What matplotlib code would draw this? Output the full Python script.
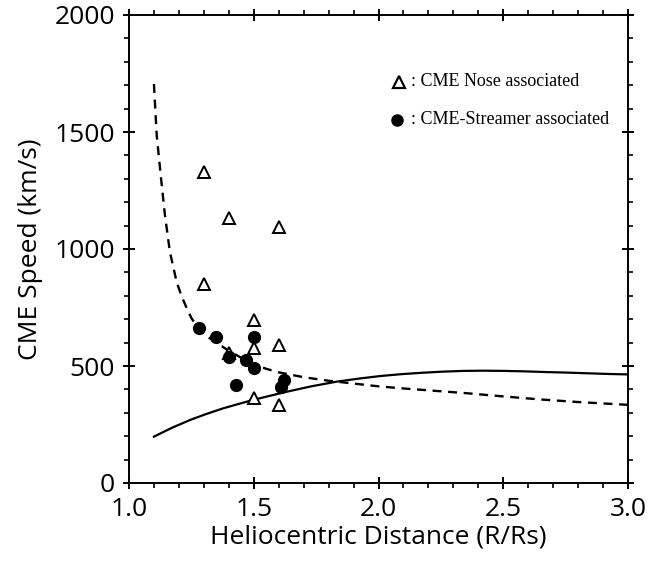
import matplotlib
matplotlib.use("Agg")
import matplotlib.pyplot as plt
from matplotlib.ticker import MultipleLocator

# Data
nose_r = [1.30, 1.40, 1.60, 1.30, 1.50, 1.50, 1.60, 1.40, 1.50, 1.60]
nose_v = [1330, 1132, 1094, 850, 697, 577, 588, 556, 363, 333]

streamer_r = [1.28, 1.35, 1.40, 1.50, 1.47, 1.50, 1.43, 1.62, 1.61]
streamer_v = [662, 623, 538, 623, 525, 493, 419, 440, 412]

dash_r = [1.10, 1.111, 1.127, 1.144, 1.164, 1.191, 1.21, 1.231, 1.25, 1.277,
          1.30, 1.35, 1.40, 1.45, 1.50, 1.55, 1.60, 1.70, 1.80, 1.90, 2.00,
          2.10, 2.20, 2.35, 2.50, 2.65, 2.80, 2.90, 3.00]
dash_v = [1705, 1487, 1316, 1145, 987, 859, 800, 748, 705, 662,
          635, 600, 565, 535, 508, 488, 473, 452, 437, 425, 413,
          404, 396, 384, 370, 357, 346, 340, 334]

solid_r = [1.10, 1.17, 1.244, 1.31, 1.377, 1.44, 1.497, 1.57, 1.632, 1.73,
           1.832, 1.92, 2.006, 2.09, 2.173, 2.26, 2.34, 2.42, 2.507, 2.59,
           2.674, 2.75, 2.834, 2.92, 3.0]
solid_v = [198, 235, 269, 295, 319, 338, 355, 374, 390, 413,
           433, 446, 457, 465, 471, 476, 479, 480, 479, 477,
           474, 472, 469, 466, 464]

legend_labels = [": CME Nose associated", ": CME-Streamer associated"]

fig = plt.figure(figsize=(6.48, 5.64), dpi=100)
ax = fig.add_axes([129/648, 81/564, 499/648, 468/564])

ax.plot(dash_r, dash_v, color="black", lw=1.7, ls=(0, (3.8, 2.8)),
        solid_joinstyle="round")
ax.plot(solid_r, solid_v, color="black", lw=1.6, ls="-",
        solid_joinstyle="round")
ax.plot(nose_r, nose_v, ls="none", marker="^", ms=9, mfc="white",
        mec="black", mew=1.4, zorder=3)
ax.plot(streamer_r, streamer_v, ls="none", marker="o", ms=8.5, mfc="black",
        mec="black", zorder=4)

# legend drawn manually
ax.plot([0.541], [0.857], transform=ax.transAxes, marker="^", ms=8,
        mfc="white", mec="black", mew=1.6, clip_on=False)
ax.plot([0.537], [0.776], transform=ax.transAxes, marker="o", ms=8,
        mfc="black", mec="black", clip_on=False)
ax.text(0.566, 0.857, legend_labels[0], transform=ax.transAxes,
        family="Liberation Serif", fontsize=13, va="center", ha="left")
ax.text(0.566, 0.776, legend_labels[1], transform=ax.transAxes,
        family="Liberation Serif", fontsize=13, va="center", ha="left")

ax.set_xlim(1.0, 3.0)
ax.set_ylim(0, 2000)
ax.xaxis.set_major_locator(MultipleLocator(0.5))
ax.xaxis.set_minor_locator(MultipleLocator(0.1))
ax.yaxis.set_major_locator(MultipleLocator(500))
ax.yaxis.set_minor_locator(MultipleLocator(100))

ax.tick_params(which="major", direction="inout", length=8, width=1.4,
               top=True, right=True, labelsize=19, pad=6)
ax.tick_params(which="minor", direction="out", length=3.5, width=1.2,
               top=True, right=True)
for s in ax.spines.values():
    s.set_linewidth(1.4)

for lab in ax.get_xticklabels() + ax.get_yticklabels():
    lab.set_family("Open Sans")

ax.set_xlabel("Heliocentric Distance (R/Rs)", family="Open Sans", fontsize=19,
              labelpad=2)
ax.set_ylabel("CME Speed (km/s)", family="Open Sans", fontsize=19, labelpad=8)

fig.savefig("out.png", dpi=100)
